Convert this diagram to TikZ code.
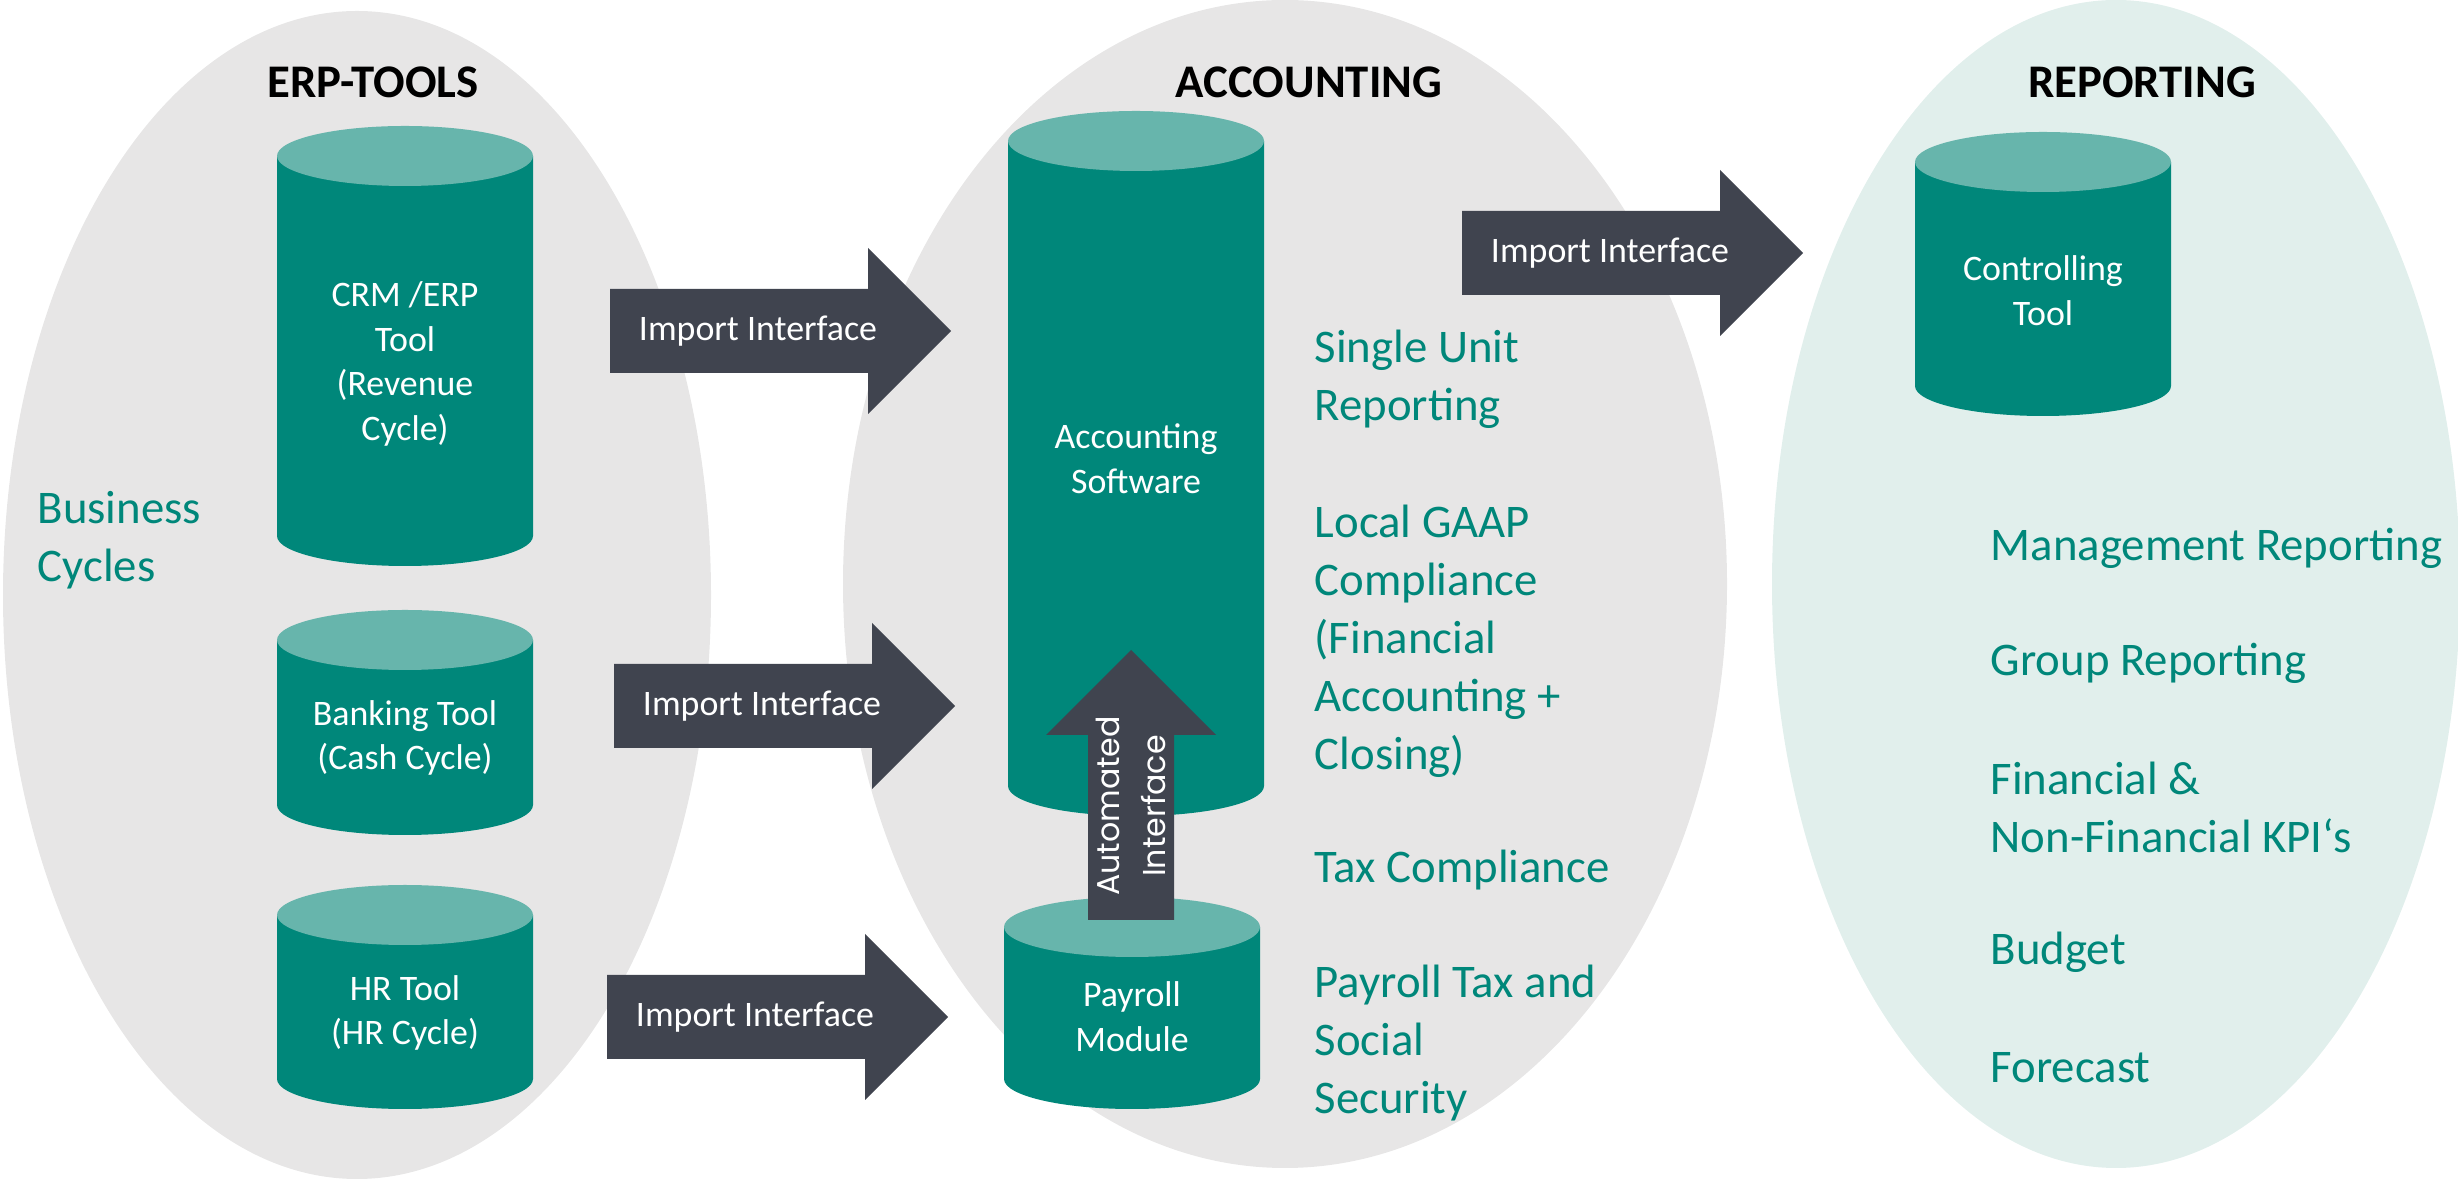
\documentclass[tikz,border=0pt]{standalone}
\usepackage{fontspec}
\setmainfont{Carlito}
\newfontfamily\geofont{Poppins}
\usepackage{tikz}
\definecolor{tealdark}{HTML}{00877A}
\definecolor{teallight}{HTML}{67B5AC}
\definecolor{slate}{HTML}{40444F}
\definecolor{fieldgray}{HTML}{E7E6E6}
\definecolor{fieldteal}{HTML}{E1EFEC}

% database tank: name, centre x, top y, bottom y, text y, text
\newcommand{\tank}[6]{%
  \fill[tealdark] ({#2-128},{#3-30}) -- ({#2-128},{#4+30})
    arc[start angle=180, end angle=360, x radius=128, y radius=30]
    -- ({#2+128},{#3-30}) -- cycle;
  \fill[teallight] (#2,{#3-30}) ellipse[x radius=128, y radius=30];
  \node[tanklabel] (#1) at (#2,#5) {#6};%
}
% block arrow pointing right: name, tail x, centre y, text
\newcommand{\blockarrow}[4]{%
  \fill[slate] (#2,{#3-42}) -- ++(258,0) -- ++(0,-41) -- ++(83,83)
    -- ++(-83,83) -- ++(0,-41) -- ++(-258,0) -- cycle;
  \node[arrowlabel] (#1) at ({#2+148},#3) {#4};%
}

\begin{document}
\begin{tikzpicture}[x=0.01cm, y=0.01cm,
  tanklabel/.style={text=white, align=center, inner sep=0pt,
    font=\fontsize{10.2}{12.7}\selectfont},
  arrowlabel/.style={text=white, inner sep=0pt,
    font=\fontsize{10.2}{12.7}\selectfont},
  heading/.style={inner sep=0pt, font=\bfseries\fontsize{13.3}{16}\selectfont},
  listitem/.style={text=tealdark, align=left, anchor=west, inner sep=0pt,
    font=\fontsize{13.3}{16.5}\selectfont}]

\useasboundingbox (0,0) rectangle (2458,1182);

% the three fields
\fill[fieldgray] (357,587) ellipse[x radius=354, y radius=584];
\fill[fieldgray] (1285,598) ellipse[x radius=442, y radius=584];
\fill[fieldteal] (2116,598) ellipse[x radius=344, y radius=584];

\node[heading] (erp) at (373,1100) {ERP-TOOLS};
\node[heading] (accounting) at (1309,1100) {ACCOUNTING};
\node[heading] (reporting) at (2142,1100) {REPORTING};

% ERP tools
\tank{crm}{405}{1056}{616}{818}{CRM /ERP\\Tool\\(Revenue\\Cycle)}
\tank{banking}{405}{572}{347}{444}{Banking Tool\\(Cash Cycle)}
\tank{hr}{405}{297}{73}{169}{HR Tool\\(HR Cycle)}
\node[listitem] (cycles) at (37,642) {Business\\Cycles};

% accounting
\tank{accsoft}{1136}{1071}{366}{723}{Accounting\\Software}
\tank{payroll}{1132}{285}{73}{165}{Payroll\\Module}

\fill[slate] (1088,262) -- (1174,262) -- (1174,447) -- (1216,447)
  -- (1131,532) -- (1046,447) -- (1088,447) -- cycle;
\node[rotate=90, text=white, align=center, inner sep=0pt,
  font=\geofont\fontsize{9}{13.1}\selectfont] (automated) at (1131,376)
  {Automated\\Interface};

\node[listitem] (single) at (1314,803) {Single Unit\\Reporting};
\node[listitem] (gaap) at (1314,541) {Local GAAP\\Compliance\\(Financial\\Accounting +\\Closing)};
\node[listitem] (tax) at (1314,312) {Tax Compliance};
\node[listitem] (social) at (1314,139) {Payroll Tax and\\Social\\Security};

% interfaces
\blockarrow{imp1}{610}{851}{Import Interface}
\blockarrow{imp2}{614}{476}{Import Interface}
\blockarrow{imp3}{607}{165}{Import Interface}
\blockarrow{imp4}{1462}{929}{Import Interface}

% reporting
\tank{controlling}{2043}{1050}{766}{891}{Controlling\\Tool}
\node[listitem] (mgmt) at (1990,634) {Management Reporting};
\node[listitem] (group) at (1990,519) {Group Reporting};
\node[listitem] (kpi) at (1990,375) {Financial \&\\Non-Financial KPI‘s};
\node[listitem] (budget) at (1990,230) {Budget};
\node[listitem] (forecast) at (1990,114) {Forecast};

\end{tikzpicture}
\end{document}
